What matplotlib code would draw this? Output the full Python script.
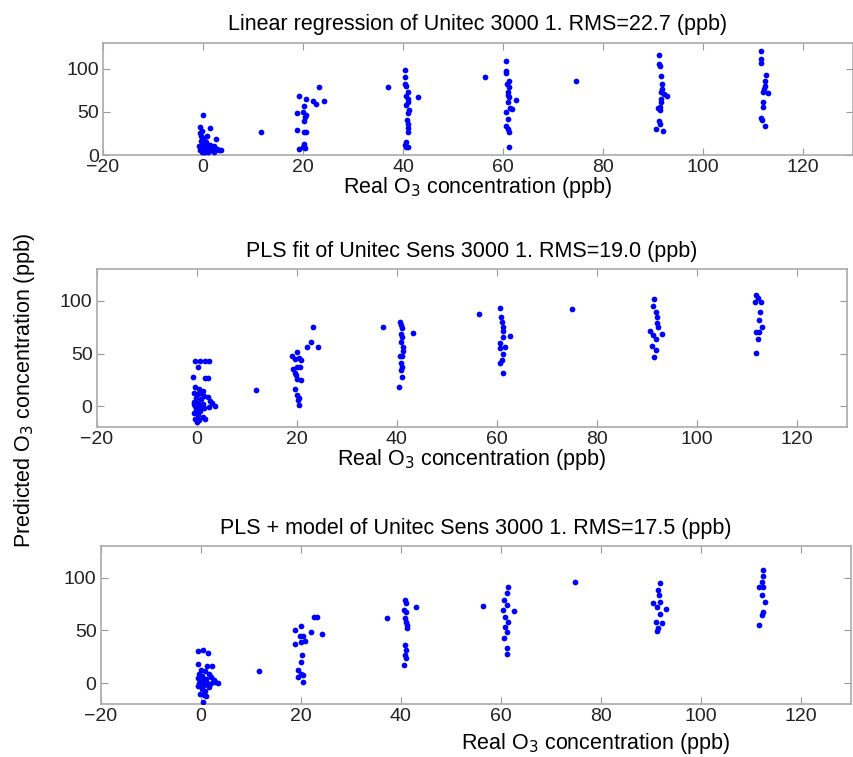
import matplotlib
matplotlib.use("Agg")
import matplotlib.pyplot as plt

plt.rcParams['font.family'] = ['Liberation Sans', 'DejaVu Sans']

titles = [
    "Linear regression of Unitec 3000 1. RMS=22.7 (ppb)",
    "PLS fit of Unitec Sens 3000 1. RMS=19.0 (ppb)",
    "PLS + model of Unitec Sens 3000 1. RMS=17.5 (ppb)",
]
xlabel = "Real O$_3$ concentration (ppb)"
ylabel = "Predicted O$_3$ concentration (ppb)"

# --- panel 1: linear regression ---
lin_x = [0, -0.6, 1.5, 2.6, -0.5, -0.3, 0, 0.2, -0.4, 0.1, 0.4, -0.2, 0.3, 0, 0.6, -0.3, 0.2, 0.8,
         -0.5, 0.1, 1.2, 0.5, 1.6, 2, 2.3, 2.8, 3.2, 3.6, 1, -0.2, 0.3, 1.4, 2.2, 0.7, -0.7, 0.9, -0.1,
         11.7,
         19.3, 20.7, 20.3, 18.8, 20, 20.7, 20.3, 20.5, 18.8, 20.3, 20.7, 20.3, 20, 19.3, 20.5,
         22, 22.7, 23.2, 24.2,
         40.5, 40.4, 40.4, 40.7, 41, 40.7, 41, 41, 40.7, 41.2, 41, 40.8, 41, 41, 41, 40.7, 40.5, 40.7, 41,
         37.1, 43,
         56.4, 60.6, 60.7, 60.6, 61.2, 61.2, 61.1, 61.2, 61.1, 62.6, 61.4, 61.9, 60.7, 61.1, 60.6, 61.1,
         61.2, 61.2, 61.0, 60.9,
         74.7,
         91.3, 91.3, 91.4, 91.7, 91.9, 91.9, 91.7, 92.2, 92.9, 91.7, 91.4, 91.1, 91.5, 91.3, 91.4, 90.6,
         92.1, 91.6,
         111.7, 111.7, 111.7, 112.6, 112.4, 112.4, 112.2, 113, 112.1, 112.1, 112.1, 111.7, 111.9, 112.5]
lin_y = [46, 32, 31, 19, 25, 22, 20, 18, 16, 15, 13, 12, 11, 10, 9, 8, 7, 6,
         6, 5, 5, 4, 8, 6, 10, 7, 6, 6, 4, 4, 3, 12, 4, 15, 10, 22, 28,
         27,
         69, 65, 57, 49, 50, 46, 40, 44, 29.5, 27, 27, 13, 9.6, 6.5, 7.7,
         63, 59, 78.5, 62.5,
         98.5, 91, 82, 80, 73, 69, 65, 61, 57.5, 52, 48.7, 41, 36, 31, 27, 15, 11.5, 9.6, 8.8,
         79, 67,
         91, 109, 98, 95, 86, 78.5, 73, 67, 61, 64, 54, 53.6, 50, 42, 34, 30.6,
         27, 9.6, 70, 82,
         86,
         116, 106, 103, 92, 82, 77, 73, 71, 68, 65, 55.6, 55, 52, 40, 36.4, 30,
         28, 61,
         121, 111, 107, 93, 86, 80.5, 77, 72, 72.8, 61, 55.6, 43, 41, 33.7]

# --- panel 2: PLS fit ---
pls_x = [-0.3, 0.7, 1.7, 2.5, 0.3, -0.7, 1.7, 2.3, -0.4, 0.5, 1.2, -0.6, 0.3, 1.5, 2.2, -0.2, 0.8,
         2.6, -0.5, 0.2, 1.2, 3, 3.7, -0.4, 0.5, 1.4, 2.4, -0.2, 0.6, -0.5, 0.3, 1.2, 1.7, -0.3, 0,
         0.5, -0.6, 0.9,
         11.9,
         19, 19.7, 20.1, 20.5, 20.8, 19.3, 20.1, 20.7, 19.9, 20.1, 20.8, 19.7, 20, 20.5, 20.5, 20.3, 19.7,
         22.1, 22.8, 23.3, 24.3,
         40.7, 40.8, 41, 40.8, 41.1, 40.9, 41.2, 41.3, 40.7, 41, 40.8, 41.1, 40.8, 41, 40.5,
         37.2, 43.2,
         56.5, 60.7, 60.9, 61.1, 61.3, 61.2, 61.3, 62.7, 60.7, 61.7, 60.7, 61.3, 61, 60.7, 61.2,
         75,
         91.5, 91.3, 91.9, 92, 92.1, 92.3, 90.7, 93, 91.3, 91.9, 91, 91.9, 91.5,
         111.9, 112.3, 112.8, 111.7, 112.7, 112.5, 113, 111.9, 112.5, 112.3, 111.9]
pls_y = [43, 43, 43, 43, 37, 28, 27, 27, 18, 16, 14, 12, 11, 10, 9, 8, 7,
         5, 4, 3, 2, 3, 0, 0, -1, -2, -1, -4, -5, -7, -9, -10, -12, -12, -15,
         -13, 2, 12,
         15.2,
         47.6, 45, 51.7, 46, 44, 35, 37.5, 37, 29.5, 26, 25, 16, 10.5, 8, 1, 5.7, 31,
         56.5, 61, 75, 56,
         80, 77, 74, 69, 66, 61, 56.5, 52.7, 47.6, 47.6, 40.6, 36.8, 34, 28, 18.4,
         75, 70,
         88, 93, 85, 80, 75.5, 71, 66, 67, 59.7, 56.5, 55, 50, 44, 40.6, 31,
         92.4,
         101.6, 95, 90, 85, 79, 75.5, 71.7, 69, 67.6, 64, 57, 53, 47,
         105.7, 102.5, 99.4, 99.4, 90, 82, 75.5, 70.8, 70.8, 63.5, 50.8]

# --- panel 3: PLS + model ---
mod_x = [-0.5, 0.4, 1.5, -0.5, 1.2, 2.2, 0, 0.8, -0.4, 1.6, 0.3, 2, -0.6, 1, 2.6, 0.2, 3.5, -0.3,
         1.3, 2.5, 0.6, -0.5, 1.6, 0.2, 0.9, -0.2, 0.6, 1, 0.4, 0, 2.9, 1.9,
         11.7,
         18.9, 20, 19.9, 20.5, 18.9, 20, 20.9, 20.2, 20, 19.5, 20, 20.5, 20.4, 19.4,
         22, 22.7, 23.3, 24.3,
         40.8, 41, 40.7, 41.1, 40.8, 41, 41.2, 41.3, 40.9, 41, 40.8, 41.1, 40.7,
         37.2, 43.1,
         56.4, 61.5, 61.2, 60.7, 61.2, 60.5, 62.7, 60.9, 61.5, 60.9, 61.2, 60.7, 61.2, 61.2,
         74.9,
         91.9, 91.5, 91.7, 90.5, 91.9, 91.3, 93.1, 91.9, 91.1, 92.2, 91.5, 91.3,
         112.4, 112.4, 112.2, 111.7, 112.5, 112.2, 112.9, 112.4, 112.2, 111.7]
mod_y = [30, 31.4, 29, 18, 16, 16, 12, 11, 9, 9, 7, 6, 5, 4, 3, 2, 0, 0,
         0, 1, -2, -3, -4, -6, -8, -10, -11, -12, -17.8, -3, 0.5, -1,
         11,
         50, 54, 45, 45, 37, 39.4, 40, 26.7, 20, 12.4, 9, 7.6, 1.3, 6,
         49, 63, 62.5, 46.7,
         79, 76, 69.5, 68, 61.6, 58.4, 55, 52, 36, 31.4, 26.7, 23.5, 17,
         62, 72.7,
         73.3, 91.7, 85.4, 79, 74.3, 69.5, 68.9, 63, 58.4, 53.7, 49, 42.5, 33, 27.6,
         95.9,
         95, 88.6, 83.8, 76.5, 77.5, 72.7, 70.2, 65.7, 58.4, 56.8, 52, 49.8,
         108, 102, 96.5, 91, 91, 83.8, 77.5, 68, 64.8, 55.2]

fig = plt.figure(figsize=(8.54, 7.57), dpi=100)

boxes = [
    [0.1206, 0.7952, 0.8782, 0.1480],
    [0.1132, 0.4359, 0.8782, 0.2081],
    [0.1179, 0.0700, 0.8782, 0.2081],
]
ylims = [(0, 130), (-20, 130), (-20, 130)]
series = [(lin_x, lin_y), (pls_x, pls_y), (mod_x, mod_y)]

axes = []
for box, title, ylim, (xs, ys) in zip(boxes, titles, ylims, series):
    ax = fig.add_axes(box)
    ax.scatter(xs, ys, s=17, color='#0000ff', linewidths=0, zorder=3)
    ax.set_xlim(-20, 130)
    ax.set_ylim(*ylim)
    ax.set_xticks([-20, 0, 20, 40, 60, 80, 100, 120])
    ax.set_yticks([0, 50, 100])
    ax.tick_params(direction='in', top=True, right=True, labelsize=14,
                   color='#999999', labelcolor='#222222', length=5, pad=3)
    for sp in ax.spines.values():
        sp.set_color('#aaaaaa')
        sp.set_linewidth(1.2)
    ax.set_title(title, fontsize=15.5, pad=9)
    ax.set_xlabel(xlabel, fontsize=15.5, labelpad=-1)
    axes.append(ax)

# bottom panel's x label sits off to the right in the original
axes[2].xaxis.set_label_coords(0.66, -0.17)

fig.text(0.029, 0.485, ylabel, rotation=90, fontsize=15.5, ha='center', va='center')

fig.savefig("out.png", dpi=100)
